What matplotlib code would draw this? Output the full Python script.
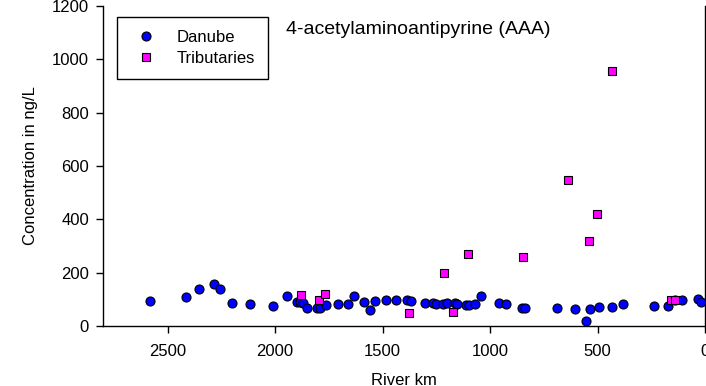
import matplotlib.pyplot as plt

plt.rcParams['font.family'] = ['Liberation Sans', 'DejaVu Sans']

# Danube samples: river km and concentration (ng/L)
danube_km = [2580, 2414, 2352, 2284, 2256, 2201, 2118, 2008, 1943, 1896, 1884, 1868,
             1852, 1806, 1791, 1761, 1708, 1659, 1632, 1586, 1560, 1535, 1484, 1436,
             1386, 1367, 1301, 1264, 1253, 1220, 1201, 1161, 1152, 1110, 1099, 1071,
             1040, 957, 927, 850, 836, 687, 603, 552, 535, 492, 431, 380, 237, 171,
             140, 108, 31, 20]
danube_conc = [93, 109, 139, 159, 139, 86, 82, 76, 111, 89, 89, 88,
               69, 68, 69, 79, 83, 84, 111, 91, 59, 94, 97, 99,
               96, 92, 88, 88, 83, 82, 88, 87, 81, 79, 79, 83,
               111, 88, 83, 66, 68, 68, 64, 19, 64, 71, 72, 84, 76, 74,
               98, 98, 100, 91]

# Tributaries
trib_km = [1881, 1794, 1766, 1378, 1214, 1171, 1104, 846, 639, 540, 501, 434, 160, 138]
trib_conc = [118, 97, 119, 47, 200, 52, 269, 260, 548, 320, 419, 958, 99, 99]

fig = plt.figure(figsize=(7.06, 3.86), dpi=100)
ax = fig.add_axes([103 / 706, 60 / 386, 602 / 706, 320 / 386])

ax.plot(danube_km, danube_conc, 'o', color='blue', markeredgecolor='black',
        markeredgewidth=0.8, markersize=6.5, label='Danube', zorder=3)
ax.plot(trib_km, trib_conc, 's', color='magenta', markeredgecolor='black',
        markeredgewidth=0.8, markersize=5.5, label='Tributaries', zorder=3)

ax.set_xlim(2800, 0)
ax.set_ylim(0, 1200)
ax.set_xticks([2500, 2000, 1500, 1000, 500, 0])
ax.set_yticks([0, 200, 400, 600, 800, 1000, 1200])
ax.tick_params(direction='out', length=5, width=1, labelsize=12)
ax.tick_params(axis='x', pad=8)
ax.tick_params(axis='y', pad=5)
ax.spines['top'].set_visible(False)
for s in ['left', 'bottom', 'right']:
    ax.spines[s].set_linewidth(1)

ax.set_xlabel('River km', fontsize=12, labelpad=10)
ax.set_ylabel('Concentration in ng/L', fontsize=12, labelpad=10)

ax.text(0.523, 0.927, '4-acetylaminoantipyrine (AAA)', transform=ax.transAxes,
        fontsize=14, ha='center', va='center')

leg = ax.legend(loc='upper left', bbox_to_anchor=(0.0233, 0.9656), fontsize=12,
                frameon=True, fancybox=False, edgecolor='black', framealpha=1,
                borderaxespad=0, handlelength=2.0, handletextpad=0.85,
                borderpad=0.75, labelspacing=0.4)
leg.get_frame().set_linewidth(1)

fig.savefig('out.png', dpi=100)
